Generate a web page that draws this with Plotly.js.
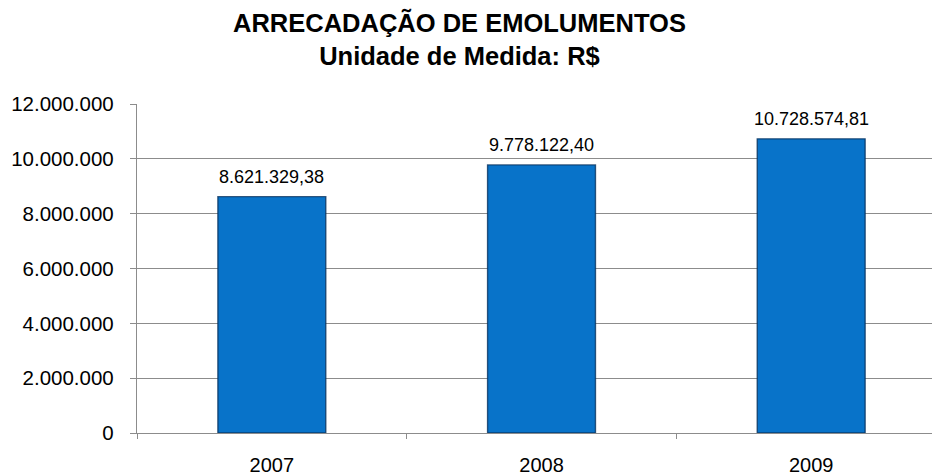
<!DOCTYPE html>
<html>
<head>
<meta charset="utf-8">
<script src="https://cdn.plot.ly/plotly-3.0.1.min.js"></script>
<style>html,body{margin:0;padding:0;background:#fff;}#chart{width:932px;height:475px;}</style>
</head>
<body>
<div id="chart"></div>
<script>
var years = ['2007', '2008', '2009'];
var values = [8621329.38, 9778122.40, 10728574.81];
var yTickVals = [0, 2000000, 4000000, 6000000, 8000000, 10000000, 12000000];

function fmtBR(v) {
  var parts = v.toFixed(2).split('.');
  var intPart = parts[0].replace(/\B(?=(\d{3})+(?!\d))/g, '.');
  return intPart + ',' + parts[1];
}

var FONT = 'Liberation Sans, Arial, sans-serif';

var trace = {
  type: 'bar',
  x: years,
  y: values,
  marker: {
    color: '#0873C9',
    line: {color: 'rgba(8,50,95,0.8)', width: 1.4}
  },
  hoverinfo: 'x+y'
};

var annotations = [];
for (var i = 0; i < years.length; i++) {
  annotations.push({
    x: i, y: values[i], xref: 'x', yref: 'y',
    text: fmtBR(values[i]),
    showarrow: false, xanchor: 'center', yanchor: 'bottom', yshift: 8,
    font: {family: FONT, size: 18, color: '#000000'}
  });
}

var layout = {
  width: 932, height: 475,
  margin: {l: 137, r: 0, t: 104, b: 42},
  paper_bgcolor: '#fff', plot_bgcolor: '#fff',
  separators: ',.',
  bargap: 0.6,
  showlegend: false,
  font: {family: FONT, color: '#000'},
  title: {
    text: '<b>ARRECADAÇÃO DE EMOLUMENTOS<br>Unidade de Medida: R$</b>',
    font: {family: FONT, size: 25.5, color: '#000'},
    x: 0.493, xanchor: 'center', xref: 'container',
    y: 0.932, yanchor: 'top', yref: 'container'
  },
  xaxis: {
    type: 'category',
    range: [-0.5, 2.448],
    showline: true, linecolor: '#8c8c8c', linewidth: 1.3,
    ticks: 'outside', tickson: 'boundaries', ticklen: 5, tickcolor: '#8c8c8c',
    ticklabelstandoff: 14,
    tickfont: {family: FONT, size: 20, color: '#000'},
    showgrid: false, zeroline: false, fixedrange: true
  },
  yaxis: {
    range: [0, 12000000],
    tickvals: yTickVals,
    tickformat: ',d',
    showline: true, linecolor: '#8c8c8c', linewidth: 1.3,
    ticks: 'outside', ticklen: 6, tickcolor: '#8c8c8c',
    ticklabelstandoff: 12,
    tickfont: {family: FONT, size: 20.5, color: '#000'},
    showgrid: true, gridcolor: '#8c8c8c', gridwidth: 1.2,
    zeroline: false, fixedrange: true
  },
  annotations: annotations
};

Plotly.newPlot('chart', [trace], layout, {displayModeBar: false});
</script>
</body>
</html>
